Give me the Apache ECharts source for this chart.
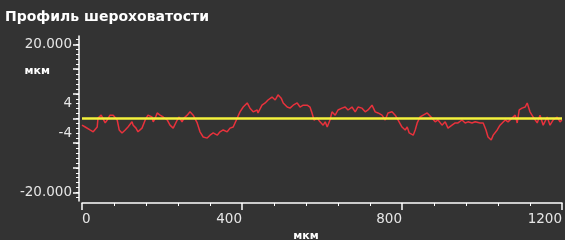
<!DOCTYPE html>
<html>
<head>
<meta charset="utf-8">
<script src="https://cdn.jsdelivr.net/npm/echarts@6/dist/echarts.min.js"></script>
<style>
  html, body { margin: 0; padding: 0; background: #333333; }
  #chart { width: 565px; height: 240px; }
</style>
</head>
<body>
<div id="chart"></div>
<script>
// Профиль: положение вдоль трассы (мкм) и высота (мкм)
const positions = [
  0, 8, 20, 28, 38, 40, 48, 53, 58, 63, 70, 75, 78, 88, 93, 100, 108, 115, 125, 128,
  135, 140, 150, 158, 165, 175, 178, 183, 188, 195, 203, 213, 220, 228, 238, 243, 250, 255, 263, 270,
  278, 288, 295, 303, 313, 320, 328, 338, 345, 353, 363, 370, 378, 388, 395, 403, 413, 420, 428, 438,
  440, 450, 458, 465, 475, 483, 490, 498, 503, 513, 520, 528, 538, 545, 553, 563, 570, 575, 580, 588,
  595, 603, 608, 613, 620, 625, 633, 640, 650, 658, 665, 675, 683, 690, 700, 708, 715, 725, 733, 740,
  750, 758, 765, 775, 783, 790, 800, 808, 813, 818, 828, 833, 838, 845, 853, 863, 868, 875, 883, 890,
  900, 908, 915, 925, 933, 940, 950, 958, 965, 975, 983, 988, 995, 1003, 1010, 1015, 1023, 1028, 1038, 1045,
  1058, 1065, 1075, 1083, 1088, 1093, 1100, 1108, 1113, 1120, 1128, 1138, 1145, 1153, 1163, 1170, 1178, 1188, 1195, 1200
];
const heights = [
  -1.8, -2.3, -3.1, -3.6, -2.3, 0.1, 0.9, 0.4, -1.2, -0.4, 0.9, 0.4, 0.9, -0.4, -3.1, -3.9, -3.1, -2.3, -0.9, -1.8,
  -2.6, -3.6, -2.6, -0.4, 0.9, 0.4, -0.9, 0.1, 1.5, 0.9, 0.4, -0.4, -1.8, -2.6, -0.4, 0.4, -0.9, 0.1, 0.9, 1.8,
  0.9, -1.2, -3.6, -5.0, -5.3, -4.5, -3.9, -4.5, -3.6, -3.1, -3.6, -2.6, -2.3, 0.1, 1.8, 3.1, 4.2, 2.8, 1.8, 2.3,
  1.5, 3.6, 4.2, 5.0, 5.8, 5.0, 6.4, 5.5, 4.2, 3.1, 2.8, 3.6, 4.2, 3.1, 3.6, 3.6, 3.1, 1.5, -0.4, 0.1,
  -0.9, -1.8, -0.9, -2.3, -0.4, 1.8, 0.9, 2.3, 2.8, 3.1, 2.3, 3.1, 1.8, 3.1, 2.8, 1.8, 2.3, 3.6, 1.8, 1.5,
  0.9, -0.4, 1.5, 1.8, 0.9, -0.4, -2.3, -3.1, -2.3, -3.9, -4.5, -3.1, -1.2, 0.4, 0.9, 1.5, 1.5, 0.1, -0.9, -0.4,
  -1.8, -0.9, -2.6, -1.8, -1.2, -1.2, -0.4, -1.2, -0.9, -1.2, -0.9, -0.4, -1.2, -1.2, -3.1, -5.0, -5.8, -4.5, -3.1, -1.8,
  -0.4, -0.9, 0.1, 0.9, -1.2, 2.3, 2.8, 3.1, 4.2, 1.8, 0.4, -1.2, 0.9, -1.8, 0.4, -1.8, -0.4, 0.4, -0.9, -0.4
];
const meanLine = 0;

// Оси
const xMin = 0;
const xMax = 1200;
const xInterval = 400;
const yLimit = 22.3;
const yMajorTicks = [-20, -40 / 3, -20 / 3, 0, 20 / 3, 40 / 3, 20];
const yLabelValues = [-20, -4, 4, 20];
const yMinorTicks = [];
for (let k = -16; k <= 16; k++) yMinorTicks.push(k * 4 / 3);

const chart = echarts.init(document.getElementById('chart'));
const labelFont = 'DejaVu Sans';

chart.setOption({
  animation: false,
  backgroundColor: '#333333',
  title: {
    text: 'Профиль шероховатости',
    left: 0,
    top: 5,
    textStyle: { color: '#ffffff', fontFamily: labelFont, fontWeight: 'bold', fontSize: 14 }
  },
  grid: { left: 82, right: 3, top: 36, bottom: 39, outerBoundsMode: 'none', containLabel: false },
  xAxis: {
    type: 'value',
    min: xMin,
    max: xMax,
    interval: xInterval,
    offset: 2,
    name: 'мкм',
    nameLocation: 'middle',
    nameGap: 21,
    nameTextStyle: { color: '#ffffff', fontFamily: labelFont, fontWeight: 'bold', fontSize: 11, padding: [0, 32, 0, 0] },
    axisLine: { onZero: false, lineStyle: { color: '#ffffff', width: 1.5 } },
    axisTick: { length: 7, lineStyle: { color: '#ffffff', width: 1.5 } },
    minorTick: { show: true, splitNumber: 5, length: 3, lineStyle: { color: '#ffffff', width: 1 } },
    splitLine: { show: false },
    axisLabel: {
      color: '#e6e6e6', fontFamily: labelFont, fontSize: 13.5, margin: 9,
      align: 'right', alignMinLabel: 'left', alignMaxLabel: 'right',
      formatter: v => String(v)
    }
  },
  yAxis: [
    {
      type: 'value',
      min: -yLimit,
      max: yLimit,
      offset: 3,
      name: 'мкм',
      nameLocation: 'end',
      nameGap: -35,
      nameTextStyle: {
        color: '#ffffff', fontFamily: labelFont, fontWeight: 'bold', fontSize: 11,
        align: 'right', verticalAlign: 'middle', padding: [0, 29, 0, 0]
      },
      axisLine: { show: true, onZero: false, lineStyle: { color: '#ffffff', width: 1.5 } },
      axisTick: { show: true, length: 6, customValues: yMajorTicks, lineStyle: { color: '#ffffff', width: 1.5 } },
      splitLine: { show: false },
      axisLabel: {
        color: '#e6e6e6', fontFamily: labelFont, fontSize: 13.5, margin: 7,
        customValues: yLabelValues,
        formatter: v => (Math.abs(v) >= 10 ? v.toFixed(3) : String(v))
      }
    },
    {
      type: 'value',
      min: -yLimit,
      max: yLimit,
      offset: 3,
      position: 'left',
      axisLine: { show: false, onZero: false },
      axisTick: { show: true, length: 3, customValues: yMinorTicks, lineStyle: { color: '#ffffff', width: 1 } },
      axisLabel: { show: false },
      splitLine: { show: false }
    }
  ],
  series: [
    {
      type: 'line',
      data: positions.map((x, i) => [x, heights[i]]),
      showSymbol: false,
      lineStyle: { color: '#e8323c', width: 1.5 },
      markLine: {
        silent: true,
        symbol: 'none',
        label: { show: false },
        lineStyle: { color: '#f4f23c', width: 2.5, type: 'solid' },
        data: [{ yAxis: meanLine }]
      }
    }
  ]
});

window.addEventListener('resize', () => chart.resize());
</script>
</body>
</html>
